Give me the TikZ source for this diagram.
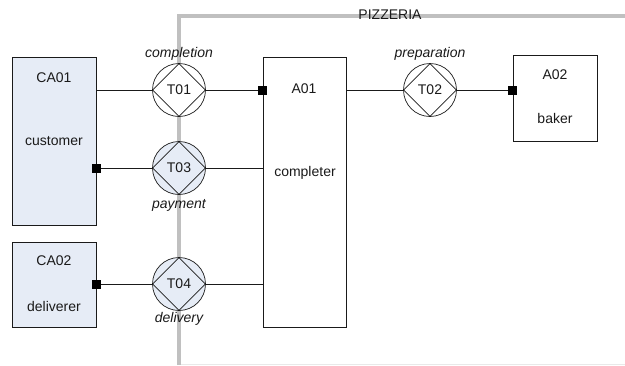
\documentclass[tikz,border=0pt]{standalone}
\usepackage{fontspec}
\setmainfont{Liberation Sans}
\usetikzlibrary{shapes.geometric}
\definecolor{actorfill}{HTML}{E6ECF6}
\definecolor{bound}{HTML}{C0C0C0}
\definecolor{ink}{HTML}{1A1A1A}
\tikzset{
  x=1pt, y=-1pt,
  every node/.style={font=\fontsize{14}{16}\selectfont, text=ink},
  actor/.style={draw=ink, line width=0.7pt, inner sep=0pt},
  ext/.style={actor, fill=actorfill},
  trans/.style={circle, draw=ink, line width=0.7pt, minimum size=53pt, inner sep=0pt},
  diam/.style={diamond, draw=ink, line width=0.7pt, minimum size=53pt, inner sep=0pt},
  tlabel/.style={font=\fontsize{14}{16}\selectfont\itshape},
  link/.style={draw=ink, line width=0.7pt},
  port/.style={fill=black, draw=none, minimum size=9pt, inner sep=0pt},
}
\begin{document}
\begin{tikzpicture}
\useasboundingbox (0,0) rectangle (625,365);

% system boundary of the pizzeria
\draw[bound!35, line width=1pt] (179,364) -- (625,364);
\draw[bound, line width=4.5pt] (179,365) -- (179,16) -- (625,16);
\node (pz) at (390,15) {PIZZERIA};

% actor roles
\node[ext, minimum width=84pt, minimum height=168pt] (ca01) at (54,141) {};
\node at (54,78) {CA01};
\node at (54,141) {customer};
\node[ext, minimum width=84pt, minimum height=85pt] (ca02) at (54,284.5) {};
\node at (54,261) {CA02};
\node at (54,306) {deliverer};
\node[actor, fill=white, minimum width=83pt, minimum height=270pt] (a01) at (304.5,192) {};
\node at (304,89) {A01};
\node at (305,173) {completer};
\node[actor, fill=white, minimum width=84pt, minimum height=86pt] (a02) at (555,98) {};
\node at (555,75) {A02};
\node at (555,118) {baker};

% transactions
\node[trans, fill=white] (t01) at (179,90) {};
\node[diam] at (t01) {T01};
\node[tlabel] at (179,54) {completion};
\node[trans, fill=actorfill] (t03) at (179,168) {};
\node[diam] at (t03) {T03};
\node[tlabel] at (179,205) {payment};
\node[trans, fill=actorfill] (t04) at (179,284) {};
\node[diam] at (t04) {T04};
\node[tlabel] at (179,319) {delivery};
\node[trans, fill=white] (t02) at (430,90) {};
\node[diam] at (t02) {T02};
\node[tlabel] at (430,54) {preparation};

% links between roles and transactions
\coordinate (c1) at (ca01.east |- t01);
\coordinate (c3) at (ca01.east |- t03);
\coordinate (c4) at (ca02.east |- t04);
\coordinate (e1) at (a01.west |- t01);
\coordinate (e3) at (a01.west |- t03);
\coordinate (e4) at (a01.west |- t04);
\coordinate (e2) at (a01.east |- t02);
\coordinate (b2) at (a02.west |- t02);
\draw[link] (c1) -- (t01.west);
\draw[link] (t01.east) -- (e1);
\draw[link] (c3) -- (t03.west);
\draw[link] (t03.east) -- (e3);
\draw[link] (c4) -- (t04.west);
\draw[link] (t04.east) -- (e4);
\draw[link] (e2) -- (t02.west);
\draw[link] (t02.east) -- (b2);

% executor ports
\node[port] (p1) at (e1) {};
\node[port] (p3) at (c3) {};
\node[port] (p4) at (c4) {};
\node[port] (p2) at (b2) {};
\end{tikzpicture}
\end{document}
